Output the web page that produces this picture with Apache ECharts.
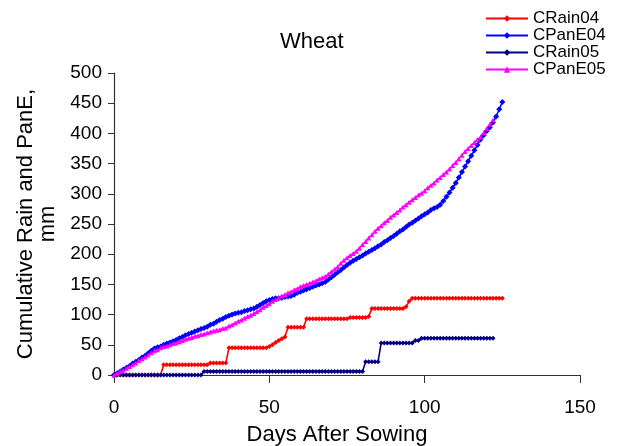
<!DOCTYPE html>
<html><head><meta charset="utf-8">
<script src="https://cdn.jsdelivr.net/npm/echarts@6/dist/echarts.min.js"></script>
<style>html,body{margin:0;padding:0;background:#fff}#c{width:619px;height:446px}</style>
</head><body><div id="c"></div>
<script>
// Cumulative values per day after sowing (index = day)
const cRain04 = [0,0,0,0,0,0,0,0,0,0,0,0,0,0,0,0,
17,17,17,17,17,17,17,17,17,17,17,17,17,17,17,
20,20,20,20,20,20,
45,45,45,45,45,45,45,45,45,45,45,45,45,
47,50,54,57,60,63,
79,79,79,79,79,79,
93,93,93,93,93,93,93,93,93,93,93,93,93,93,
95,95,95,95,95,95,97,
110,110,110,110,110,110,110,110,110,110,110,
113,122,
127,127,127,127,127,127,127,127,127,127,127,127,127,127,127,127,127,127,127,127,127,127,127,127,127,127,127,127,127,127];
const cPanE04 = [0,3,6,9,12,15,19,22,25,29,32,36,40,44,46,47,50,52,54,56,58,61,63,66,68,70,72,74,76,78,
80,83,85,88,91,93,96,98,100,102,103,104,106,107,109,110,113,116,119,122,124,126,127,127,128,129,130,131,133,136,
138,140,142,144,146,148,150,152,154,158,162,166,170,174,178,182,186,189,192,195,198,201,204,207,210,213,216,220,223,227,
230,234,238,241,245,249,252,256,259,263,266,269,273,276,278,282,288,295,302,310,318,327,336,345,354,363,372,381,390,397,
404,410,418,428,440,452];
const cRain05 = [0,0,0,0,0,0,0,0,0,0,0,0,0,0,0,0,0,0,0,0,0,0,0,0,0,0,0,0,0,
6,6,6,6,6,6,6,6,6,6,6,6,6,6,6,6,6,6,6,6,6,6,6,6,6,6,6,6,6,6,6,6,6,6,6,6,6,6,6,6,6,6,6,6,6,6,6,6,6,6,6,6,
22,22,22,22,22,
53,53,53,53,53,53,53,53,53,53,53,
57,57,
61,61,61,61,61,61,61,61,61,61,61,61,61,61,61,61,61,61,61,61,61,61,61,61];
const cPanE05 = [0,3,6,8,11,14,17,20,24,27,30,33,37,40,42,45,47,48,50,52,53,55,57,59,61,62,64,65,67,68,
70,71,73,74,75,77,78,81,83,86,89,91,94,97,99,102,105,108,112,115,118,122,125,128,131,133,136,138,141,143,
146,148,150,152,154,156,159,161,163,167,171,175,179,185,190,194,198,201,205,210,216,221,227,232,238,243,247,252,256,261,
265,269,273,278,282,286,290,294,298,301,305,310,314,318,323,327,332,336,341,347,352,358,364,370,375,380,385,390,394,401,
408,415,422];
const seriesNames = ['CRain04','CPanE04','CRain05','CPanE05'];
const xTicks = {min:0, max:150, step:50};
const yTicks = {min:0, max:500, step:50};

const font = 'Liberation Sans, Arial, sans-serif';
const toPairs = a => a.map((v,i)=>[i,v]);
const chart = echarts.init(document.getElementById('c'));
const mk = (name, data, color, symbol, size) => ({
  name, type:'line', data: toPairs(data), color,
  symbol, symbolSize:size, showSymbol:true,
  lineStyle:{color, width:1.6}, itemStyle:{color},
  animation:false
});
chart.setOption({
  animation:false,
  title:{text:'Wheat', left:280, top:31, padding:0,
    textStyle:{fontFamily:font, fontSize:22, fontWeight:'normal', color:'#000'}},
  legend:{orient:'vertical', left:485, top:10, itemWidth:42, itemHeight:8, itemGap:0, padding:0,
    textStyle:{fontFamily:font, fontSize:17, color:'#000', lineHeight:17},
    data:seriesNames},
  grid:{left:114, right:39, top:73, bottom:71, containLabel:false, outerBoundsMode:'none'},
  xAxis:{type:'value', min:xTicks.min, max:xTicks.max, interval:xTicks.step,
    name:'Days After Sowing', nameLocation:'middle', nameGap:49,
    nameTextStyle:{fontFamily:font, fontSize:22, color:'#000', padding:[0,20,0,0]},
    axisLine:{lineStyle:{color:'#333', width:1.2}},
    axisTick:{inside:false, length:8, lineStyle:{color:'#333'}},
    axisLabel:{fontFamily:font, fontSize:19, color:'#000', margin:23},
    splitLine:{show:false}},
  yAxis:{type:'value', min:yTicks.min, max:yTicks.max, interval:yTicks.step,
    name:'Cumulative Rain and PanE,\nmm', nameLocation:'middle', nameGap:49,
    nameTextStyle:{fontFamily:font, fontSize:22, color:'#000', lineHeight:22},
    axisLine:{show:true, lineStyle:{color:'#333', width:1.2}},
    axisTick:{show:true, length:6, lineStyle:{color:'#333'}},
    axisLabel:{fontFamily:font, fontSize:19, color:'#000', margin:12},
    splitLine:{show:false}},
  series:[
    mk('CRain04', cRain04, '#FF0000', 'diamond', 5),
    mk('CPanE04', cPanE04, '#0000FF', 'diamond', 6),
    mk('CRain05', cRain05, '#000080', 'diamond', 5),
    mk('CPanE05', cPanE05, '#FF00FF', 'triangle', 5)
  ]
});
</script></body></html>
